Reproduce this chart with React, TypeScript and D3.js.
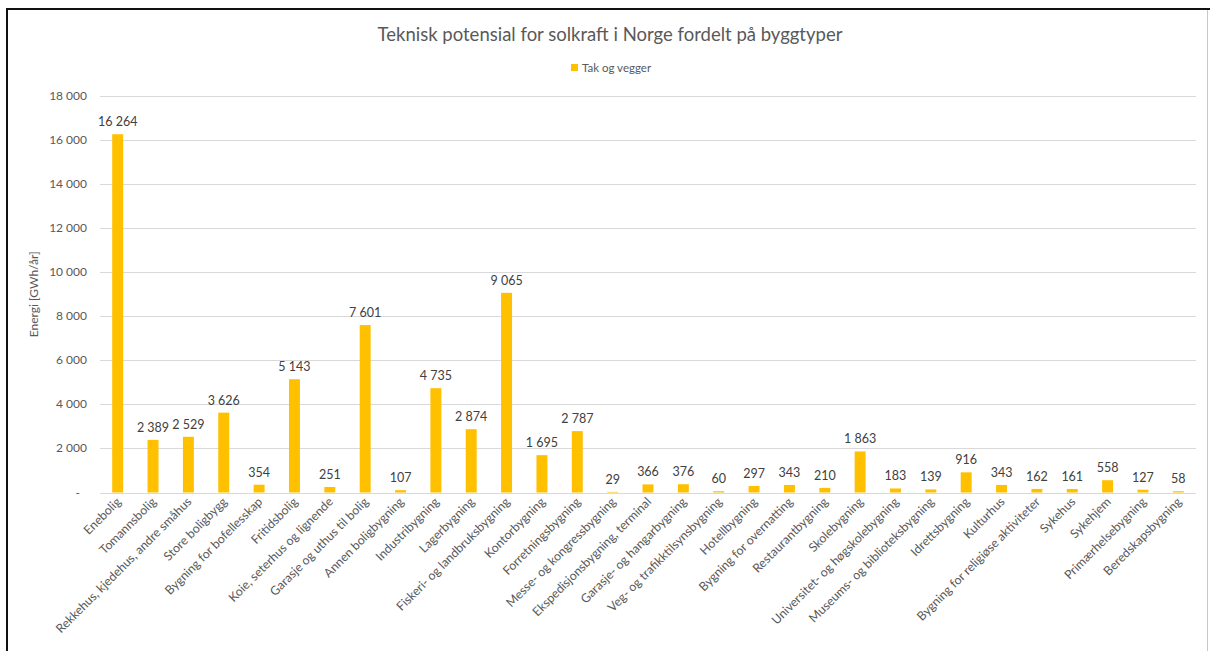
import React from "react";
import * as d3 from "d3";

const categories = [
  "Enebolig",
  "Tomannsbolig",
  "Rekkehus, kjedehus, andre småhus",
  "Store boligbygg",
  "Bygning for bofellesskap",
  "Fritidsbolig",
  "Koie, seterhus og lignende",
  "Garasje og uthus til bolig",
  "Annen boligbygning",
  "Industribygning",
  "Lagerbygning",
  "Fiskeri- og landbruksbygning",
  "Kontorbygning",
  "Forretningsbygning",
  "Messe- og kongressbygning",
  "Ekspedisjonsbygning, terminal",
  "Garasje- og hangarbygning",
  "Veg- og trafikktilsynsbygning",
  "Hotellbygning",
  "Bygning for overnatting",
  "Restaurantbygning",
  "Skolebygning",
  "Universitet- og høgskolebygning",
  "Museums- og biblioteksbygning",
  "Idrettsbygning",
  "Kulturhus",
  "Bygning for religiøse aktiviteter",
  "Sykehus",
  "Sykehjem",
  "Primærhelsebygning",
  "Beredskapsbygning",
];

const values = [
  16264, 2389, 2529, 3626, 354, 5143, 251, 7601, 107, 4735, 2874, 9065, 1695,
  2787, 29, 366, 376, 60, 297, 343, 210, 1863, 183, 139, 916, 343, 162, 161,
  558, 127, 58,
];

const yTicks = [0, 2000, 4000, 6000, 8000, 10000, 12000, 14000, 16000, 18000];

const title = "Teknisk potensial for solkraft i Norge fordelt på byggtyper";
const seriesName = "Tak og vegger";
const yTitle = "Energi [GWh/år]";

const W = 1212;
const H = 651;
const plot = { left: 100, right: 1196, top: 96, bottom: 492.5 };
const FONT = "Lato, 'Open Sans', sans-serif";
const BAR = "#FFC000";

const fmt = (v: number) =>
  v === 0 ? "-" : d3.format(",")(v).replace(/,/g, "\u00a0");

export default function App() {
  const x = d3
    .scaleBand<string>()
    .domain(categories)
    .range([plot.left, plot.right])
    .paddingInner(0.69)
    .paddingOuter(0.345);
  const y = d3.scaleLinear().domain([0, 18000]).range([plot.bottom, plot.top]);

  return (
    <svg
      width={W}
      height={H}
      style={{ position: "absolute", left: 0, top: 0, background: "#fff" }}
      fontFamily={FONT}
    >
      <rect x={0} y={0} width={W} height={H} fill="#fff" />
      {/* frame */}
      <line x1={6} y1={9} x2={1210} y2={9} stroke="#111" strokeWidth={2} />
      <line x1={7} y1={9} x2={7} y2={H} stroke="#111" strokeWidth={2} />
      <line x1={1207.5} y1={10} x2={1207.5} y2={H} stroke="#c8c8c8" strokeWidth={1} />

      <text x={610} y={41} textAnchor="middle" fontSize={18.5} fill="#595959">
        {title}
      </text>
      <rect x={571} y={64} width={7} height={7} fill={BAR} />
      <text x={582} y={72} fontSize={11.5} fill="#595959">
        {seriesName}
      </text>

      {yTicks.map((t) => (
        <g key={t}>
          <line
            x1={plot.left}
            x2={plot.right}
            y1={Math.round(y(t)) + 0.5}
            y2={Math.round(y(t)) + 0.5}
            stroke="#d9d9d9"
            strokeWidth={1}
          />
          <text
            x={t === 0 ? 80 : 87}
            y={y(t) + 4}
            textAnchor="end"
            fontSize={12}
            fill="#595959"
          >
            {fmt(t)}
          </text>
        </g>
      ))}

      <text
        transform={`translate(38,${(plot.top + plot.bottom) / 2}) rotate(-90)`}
        textAnchor="middle"
        fontSize={12}
        fill="#595959"
      >
        {yTitle}
      </text>

      {categories.map((c, i) => {
        const v = values[i];
        const bx = x(c)!;
        const cx = bx + x.bandwidth() / 2;
        return (
          <g key={c}>
            <rect
              x={bx}
              y={y(v)}
              width={x.bandwidth()}
              height={plot.bottom - y(v)}
              fill={BAR}
            />
            <text
              x={cx}
              y={y(v) - 8}
              textAnchor="middle"
              fontSize={12.5}
              fill="#404040"
            >
              {fmt(v)}
            </text>
            <text
              transform={`translate(${cx + 4},${plot.bottom + 10}) rotate(-45)`}
              textAnchor="end"
              fontSize={12.3}
              fill="#595959"
            >
              {c}
            </text>
          </g>
        );
      })}
    </svg>
  );
}
